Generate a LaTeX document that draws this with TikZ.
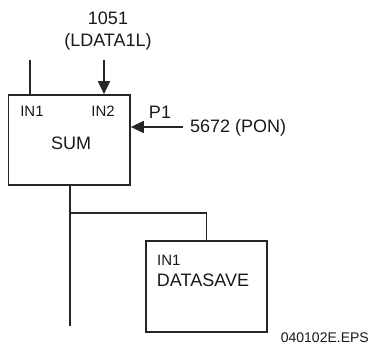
\documentclass[tikz,border=0pt]{standalone}
\usepackage{fontspec}
\setmainfont{Liberation Sans}
\usetikzlibrary{arrows.meta}
\begin{document}
\begin{tikzpicture}[x=1pt,y=-1pt,
  line/.style={draw=black!85,line width=1.7pt},
  blk/.style={line,rectangle,inner sep=0pt},
  arr/.style={line,-{Triangle[length=13pt,width=12pt]}},
  big/.style={font=\fontsize{18}{21}\selectfont,text=black!90,inner sep=0pt},
  small/.style={font=\fontsize{15}{17}\selectfont,text=black!90,inner sep=0pt}]
\useasboundingbox (0,0) rectangle (371,352);
% blocks
\node[blk,minimum width=121.5pt,minimum height=90pt] (sum) at (69.25,140) {};
\node[blk,minimum width=121pt,minimum height=91pt] (ds) at (206.5,286.5) {};
% texts
\node[big] (t1051) at (108,18) {1051};
\node[big] (tld) at (108,42) {(LDATA1L)};
\node[small] (in1) at (32,111) {IN1};
\node[small] (in2) at (103,111) {IN2};
\node[big] (sumt) at (71,143) {SUM};
\node[big] (p1) at (160,112) {P1};
\node[big,anchor=west] (pon) at (190,128) {5672 (PON)};
\node[small,anchor=west] (dsin1) at (157,260) {IN1};
\node[big] (dst) at (203,280) {DATASAVE};
\node[font=\fontsize{14}{16}\selectfont,text=black!90,inner sep=0pt,anchor=east] (eps) at (369,338) {040102E.EPS};
% connectors
\coordinate (in1top) at (30,60);
\coordinate (in2top) at (104,60);
\coordinate (ponend) at (183,127);
\coordinate (outbot) at (70,326);
\coordinate (branch) at (70,213);
\draw[line] (in1top) -- (in1top |- sum.north);
\draw[arr] (in2top) -- (in2top |- sum.north);
\draw[arr] (ponend) -- (ponend -| sum.east);
\draw[line] (outbot |- sum.south) -- (outbot);
\draw[line] (branch) -- (ds.north |- branch) -- (ds.north);
\end{tikzpicture}
\end{document}
